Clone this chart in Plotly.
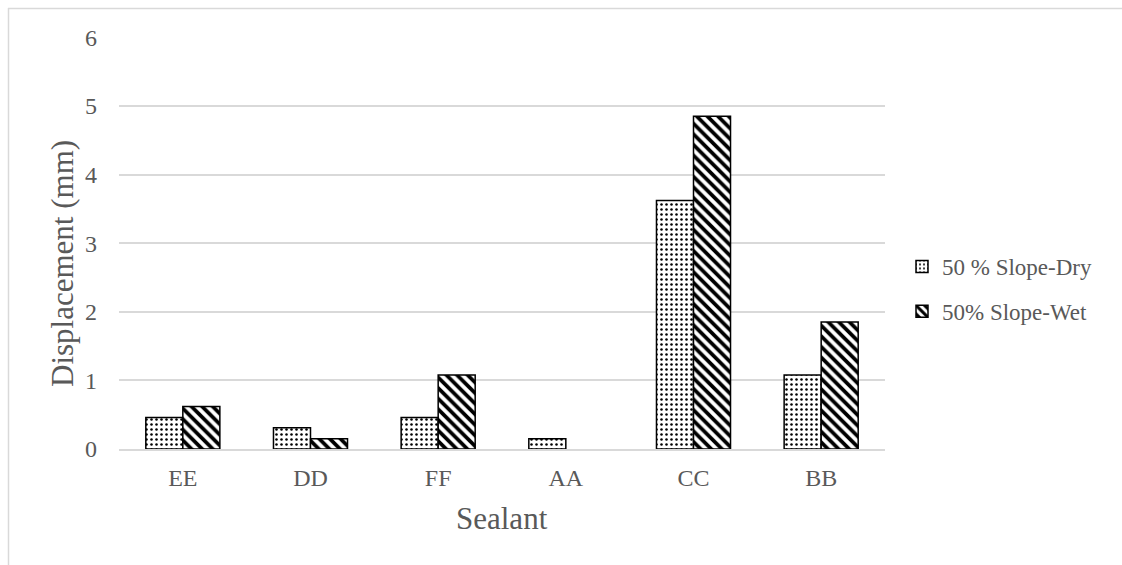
import plotly.graph_objects as go

# Sealant categories and measured displacement (mm)
sealants = ["EE", "DD", "FF", "AA", "CC", "BB"]
slope_dry = [0.46, 0.31, 0.46, 0.15, 3.62, 1.08]
slope_wet = [0.62, 0.15, 1.08, 0.0, 4.85, 1.85]
y_ticks = [0, 1, 2, 3, 4, 5, 6]

FONT = "Liberation Serif"
GREY = "#595959"

W, H = 1122, 565
ML, MR, MT, MB = 119, 237, 37, 116
PW, PH = W - ML - MR, H - MT - MB


def px_x(px):
    return (px - ML) / PW


def px_y(py):
    return (H - MB - py) / PH


def outline(values):
    # no outline on empty bars
    return [1.5 if v > 0 else 0 for v in values]


fig = go.Figure()
fig.add_trace(go.Bar(
    x=sealants, y=slope_dry, name="50 % Slope-Dry",
    legendgroup="dry",
    marker=dict(color="white", line=dict(color="black", width=outline(slope_dry)),
                pattern=dict(shape=".", size=5, solidity=0.2,
                             fgcolor="black", bgcolor="white",
                             fillmode="replace", fgopacity=1)),
))
fig.add_trace(go.Bar(
    x=sealants, y=slope_wet, name="50% Slope-Wet",
    legendgroup="wet",
    marker=dict(color="white", line=dict(color="black", width=outline(slope_wet)),
                pattern=dict(shape="\\", size=7.5, solidity=0.5,
                             fgcolor="black", bgcolor="white",
                             fillmode="replace", fgopacity=1)),
))

# outer chart frame (top and left edges)
fig.add_shape(type="line", xref="paper", yref="paper",
              x0=px_x(8), x1=px_x(W + 5), y0=px_y(8.5), y1=px_y(8.5),
              line=dict(color="#d9d9d9", width=1.5))
fig.add_shape(type="line", xref="paper", yref="paper",
              x0=px_x(8.5), x1=px_x(8.5), y0=px_y(8), y1=px_y(H + 5),
              line=dict(color="#d9d9d9", width=1.5))

# axis titles
fig.add_annotation(text="Displacement (mm)", xref="paper", yref="paper",
                   x=px_x(62), y=px_y(264), xanchor="center", yanchor="middle",
                   textangle=-90, showarrow=False,
                   font=dict(family=FONT, size=31, color=GREY))
fig.add_annotation(text="Sealant", xref="paper", yref="paper",
                   x=0.5, y=px_y(518), xanchor="center", yanchor="middle",
                   showarrow=False,
                   font=dict(family=FONT, size=31, color=GREY))

fig.update_layout(
    width=W, height=H,
    margin=dict(l=ML, r=MR, t=MT, b=MB, pad=0),
    paper_bgcolor="white", plot_bgcolor="white",
    barmode="group", bargap=0.42, bargroupgap=0,
    font=dict(family=FONT, color=GREY, size=24),
    showlegend=True,
    legend=dict(x=px_x(902), xanchor="left", y=px_y(289), yanchor="middle",
                font=dict(family=FONT, size=23, color=GREY),
                tracegroupgap=12, itemwidth=30,
                bgcolor="rgba(0,0,0,0)"),
    xaxis=dict(
        showgrid=False, showline=True, linecolor="#d9d9d9", linewidth=1.5,
        ticks="", ticklabelstandoff=6,
        tickfont=dict(family=FONT, size=24, color=GREY),
    ),
    yaxis=dict(
        range=[0, 6.004], tickvals=y_ticks, showgrid=True, gridcolor="#d9d9d9", gridwidth=1.5,
        zeroline=False, showline=False, ticks="", ticklabelstandoff=21,
        tickfont=dict(family=FONT, size=24, color=GREY),
    ),
)

fig.write_html("out.html")
